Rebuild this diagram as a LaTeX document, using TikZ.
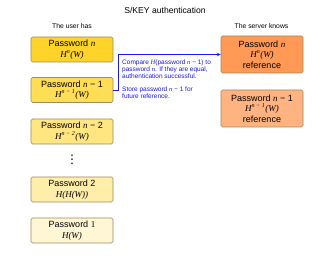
\documentclass[tikz,border=0pt]{standalone}
\usepackage{fontspec}
\setmainfont{Liberation Sans}
\newfontfamily\serif{Liberation Serif}
\newfontfamily\dejavu{DejaVu Sans}
\newcommand{\mi}[1]{{\serif\itshape #1}}
\newcommand{\hw}[1]{\mi{H\textsuperscript{#1}(W)}}
\definecolor{pwA}{HTML}{FFD42A}
\definecolor{pwB}{HTML}{FFDD55}
\definecolor{pwC}{HTML}{FFE680}
\definecolor{pwD}{HTML}{FFEEAA}
\definecolor{pwE}{HTML}{FFF6D5}
\definecolor{refA}{HTML}{FF9955}
\definecolor{refB}{HTML}{FFB380}
\definecolor{edge}{HTML}{9C8A5A}
\definecolor{note}{HTML}{1A1AF0}
\tikzset{
  pwbox/.style={draw=edge,line width=0.6pt,rounded corners=1.5pt,minimum width=82pt,minimum height=25pt,
    inner sep=1pt,align=center,font=\fontsize{9}{10.5}\selectfont},
  refbox/.style={pwbox,minimum width=82pt,minimum height=37pt},
  caption/.style={font=\fontsize{6.8}{8}\selectfont},
  notetext/.style={anchor=north west,inner sep=0pt,align=left,text=note,font=\fontsize{6.5}{6.8}\selectfont}
}
\begin{document}
\begin{tikzpicture}[>=stealth,x=1pt,y=-1pt]
  \useasboundingbox[fill=white] (0,0) rectangle (330,256);
  \node (title) at (165,10) {\fontsize{8.6}{10}\selectfont S/KEY authentication};
  \node[caption] (userhas) at (72,26) {The user has};
  \node[caption] (serverknows) at (261.5,26) {The server knows};
  % what the user has
  \node[pwbox,fill=pwA] (pwn) at (72,49.5) {Password \mi{n}\\ \hw{n}};
  \node[pwbox,fill=pwB] (pwn1) at (72,90) {Password \mi{n} − 1\\ \hw{n − 1}};
  \node[pwbox,fill=pwC] (pwn2) at (72,131.5) {Password \mi{n} − 2\\ \hw{n − 2}};
  \node[inner sep=0pt] (dots) at (72,160) {\dejavu\fontsize{12}{12}\selectfont ⋮};
  \node[pwbox,fill=pwD] (pwtwo) at (72,189.5) {Password 2\\ \mi{H(H(W))}};
  \node[pwbox,fill=pwE] (pwone) at (72,230.5) {Password {\serif 1}\\ \mi{H(W)}};
  % what the server knows
  \node[refbox,fill=refA] (refn) at (262,54.5) {Password \mi{n}\\ \hw{n}\\ reference};
  \node[refbox,fill=refB] (refn1) at (262,108.5) {Password \mi{n} − 1\\ \hw{n − 1}\\ reference};
  \draw[->,note,line width=0.7pt] (pwn1.east) -- ++(5,0) |- (refn.west);
  \node[notetext] (compare) at (122,60) {Compare \mi{H}(password \mi{n} − 1) to\\ password \mi{n}. If they are equal,\\ authentication successful.};
  \node[notetext] (store) at (122,87) {Store password \mi{n} − 1 for\\ future reference.};
\end{tikzpicture}
\end{document}
